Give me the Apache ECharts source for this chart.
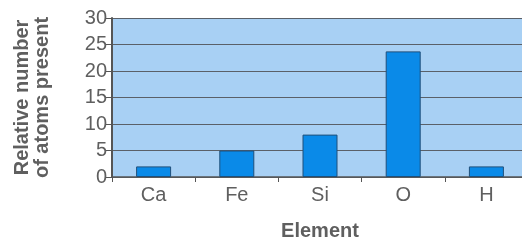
<!DOCTYPE html>
<html><head><meta charset="utf-8">
<script src="https://cdn.jsdelivr.net/npm/echarts@6/dist/echarts.min.js"></script>
<style>html,body{margin:0;padding:0;background:#fff}#c{width:522px;height:244px}</style>
</head><body><div id="c"></div>
<script>
const categories = ['Ca', 'Fe', 'Si', 'O', 'H'];
const values = [2, 5, 8, 23.7, 2];
const yTicks = [0, 30, 5];
const chart = echarts.init(document.getElementById('c'));
const ff = 'Liberation Sans, Arial, sans-serif';
chart.setOption({
  animation: false,
  grid: { left: 112, top: 18, bottom: 67, right: -6, show: true, backgroundColor: '#a8d0f4', borderWidth: 0, containLabel: false, outerBoundsMode: 'none' },
  xAxis: {
    type: 'category', data: categories,
    name: 'Element', nameLocation: 'middle', nameGap: 44,
    nameTextStyle: { fontFamily: ff, fontWeight: 'bold', fontSize: 20, color: '#5f5f5f' },
    axisLine: { lineStyle: { color: '#555', width: 1.5 } },
    axisTick: { show: true, length: 5, lineStyle: { color: '#555' } },
    axisLabel: { fontFamily: ff, fontSize: 20, color: '#5f5f5f', margin: 8 }
  },
  yAxis: {
    type: 'value', min: yTicks[0], max: yTicks[1], interval: yTicks[2],
    name: 'Relative number\nof atoms present', nameLocation: 'middle', nameGap: 60,
    nameTextStyle: { fontFamily: ff, fontWeight: 'bold', fontSize: 20, color: '#5f5f5f', lineHeight: 20 },
    axisLine: { show: true, lineStyle: { color: '#555', width: 2 } },
    axisTick: { show: true, length: 6, lineStyle: { color: '#555' } },
    axisLabel: { fontFamily: ff, fontSize: 20, color: '#5f5f5f', margin: 5 },
    splitLine: { lineStyle: { color: '#5a6068', width: 1.2 } }
  },
  series: [{
    type: 'bar', data: values, barWidth: 35,
    itemStyle: { color: '#0a8ae8', borderColor: '#1f4f7a', borderWidth: 1 }
  }]
});
</script></body></html>
